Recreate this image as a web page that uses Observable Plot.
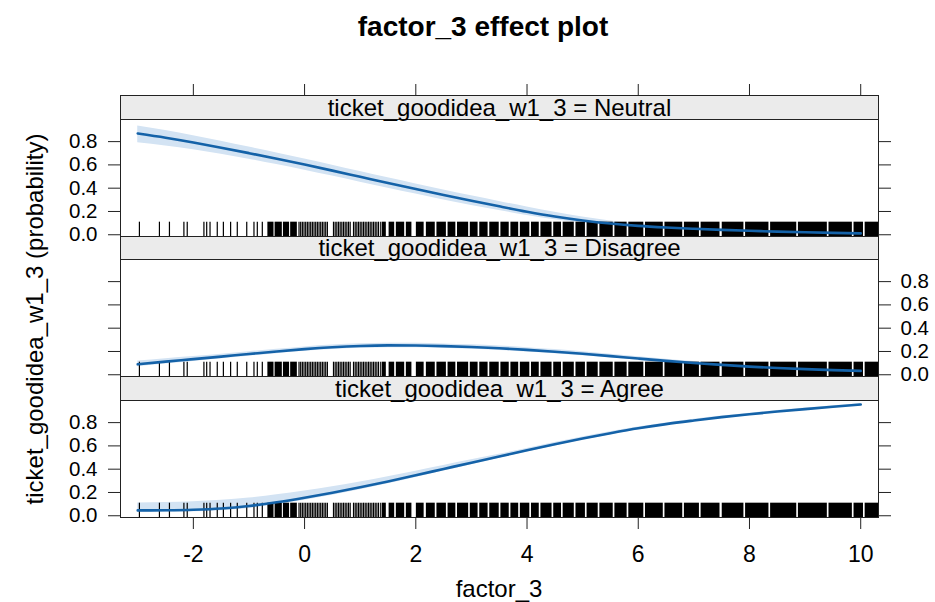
<!DOCTYPE html>
<html>
<head>
<meta charset="utf-8">
<script src="https://cdn.jsdelivr.net/npm/d3@7"></script>
<script src="https://cdn.jsdelivr.net/npm/@observablehq/plot@0.6"></script>
<style>
  body { margin: 0; background: #fff; }
  #chart { position: relative; width: 935px; height: 602px; overflow: hidden;
           font-family: "Liberation Sans", Arial, Helvetica, sans-serif; color: #000; }
  #chart svg { position: absolute; left: 0; top: 0; }
  .strip { position: absolute; box-sizing: border-box; border: 1px solid #222; background: #ebebeb;
           text-align: center; font-size: 24px; white-space: nowrap; }
  .title { position: absolute; top: 11px; left: 483px; transform: translateX(-50%);
           font-size: 28px; font-weight: bold; line-height: 32px; white-space: nowrap; }
  .xlab { position: absolute; top: 577px; left: 499px; transform: translateX(-50%);
          font-size: 24px; line-height: 24px; white-space: nowrap; }
  .ylab { position: absolute; width: 500px; height: 30px; line-height: 30px; left: -215px; top: 304px;
          transform: rotate(-90deg); text-align: center; font-size: 24px; white-space: nowrap; }
</style>
</head>
<body>
<div id="chart"></div>
<script>
// ---------- data ----------
const title = "factor_3 effect plot";
const xLabel = "factor_3";
const yLabel = "ticket_goodidea_w1_3 (probability)";
const responseName = "ticket_goodidea_w1_3";
const levels = ["Neutral", "Disagree", "Agree"];

const xTicks = [-2, 0, 2, 4, 6, 8, 10];
const yTicks = [0, 0.2, 0.4, 0.6, 0.8];

const xValues = [-3, -2.5, -2, -1.5, -1, -0.5, 0, 0.5, 1, 1.5, 2, 2.5, 3, 3.5, 4, 4.5, 5, 5.5, 6, 6.5, 7, 7.5, 8, 8.5, 9, 9.5, 10];

const neutralFit   = [0.870, 0.834, 0.793, 0.748, 0.701, 0.653, 0.603, 0.551, 0.498, 0.445, 0.393, 0.342, 0.292, 0.244, 0.198, 0.157, 0.123, 0.096, 0.076, 0.062, 0.051, 0.042, 0.034, 0.027, 0.021, 0.016, 0.012];
const neutralLower = [0.790, 0.762, 0.730, 0.691, 0.649, 0.603, 0.555, 0.504, 0.452, 0.400, 0.349, 0.299, 0.251, 0.208, 0.166, 0.129, 0.100, 0.079, 0.062, 0.050, 0.041, 0.034, 0.027, 0.021, 0.016, 0.012, 0.008];
const neutralUpper = [0.935, 0.896, 0.851, 0.803, 0.753, 0.703, 0.651, 0.598, 0.544, 0.490, 0.437, 0.385, 0.335, 0.286, 0.239, 0.194, 0.153, 0.119, 0.093, 0.076, 0.062, 0.051, 0.042, 0.034, 0.027, 0.021, 0.017];

const disagreeFit   = [0.090, 0.113, 0.134, 0.156, 0.178, 0.200, 0.220, 0.236, 0.247, 0.252, 0.251, 0.246, 0.238, 0.228, 0.214, 0.198, 0.180, 0.160, 0.139, 0.119, 0.101, 0.085, 0.070, 0.058, 0.048, 0.040, 0.033];
const disagreeLower = [0.068, 0.092, 0.114, 0.137, 0.159, 0.181, 0.201, 0.217, 0.228, 0.233, 0.232, 0.227, 0.219, 0.209, 0.196, 0.181, 0.164, 0.145, 0.125, 0.106, 0.089, 0.074, 0.060, 0.049, 0.040, 0.032, 0.026];
const disagreeUpper = [0.118, 0.138, 0.157, 0.177, 0.198, 0.219, 0.239, 0.255, 0.266, 0.271, 0.270, 0.265, 0.257, 0.247, 0.233, 0.216, 0.197, 0.176, 0.154, 0.133, 0.114, 0.097, 0.081, 0.068, 0.057, 0.048, 0.041];

const agreeFit   = [0.046, 0.047, 0.051, 0.062, 0.084, 0.116, 0.155, 0.198, 0.245, 0.295, 0.348, 0.402, 0.456, 0.509, 0.563, 0.615, 0.664, 0.709, 0.751, 0.787, 0.818, 0.847, 0.872, 0.895, 0.916, 0.936, 0.955];
const agreeLower = [0.030, 0.031, 0.034, 0.043, 0.063, 0.094, 0.133, 0.176, 0.224, 0.275, 0.329, 0.384, 0.439, 0.493, 0.547, 0.600, 0.650, 0.696, 0.739, 0.776, 0.808, 0.837, 0.862, 0.885, 0.906, 0.926, 0.944];
const agreeUpper = [0.110, 0.114, 0.121, 0.133, 0.152, 0.180, 0.213, 0.250, 0.291, 0.336, 0.383, 0.432, 0.480, 0.528, 0.578, 0.629, 0.677, 0.721, 0.762, 0.797, 0.828, 0.856, 0.881, 0.904, 0.925, 0.945, 0.965];

// rug of observed factor_3 values: single ticks where sparse, solid blocks where dense
const rugTicks = [-2.97, -2.61, -2.43, -2.17, -2.11, -1.81, -1.76, -1.70, -1.57, -1.46, -1.33, -1.21, -1.04, -0.91, -0.85, -0.76,
  -0.10, -0.07, -0.04, -0.01, 0.02, 0.05, 0.08, 0.11, 0.14, 0.17, 0.20, 0.23, 0.26, 0.29, 0.32, 0.35, 0.38, 0.41,
  0.52, 0.55, 0.58, 0.61, 0.64, 0.67, 0.70, 0.73, 0.76, 0.79, 0.82,
  0.88, 0.91, 0.94, 0.97, 1.00, 1.03, 1.06, 1.09, 1.12, 1.15, 1.18, 1.21, 1.24, 1.27, 1.30, 1.33, 1.37];
const rugBlocks = [[-0.66, -0.55], [-0.53, -0.40], [-0.38, -0.27], [-0.25, -0.13],
  [1.40, 1.47], [1.52, 1.62], [1.65, 1.80], [1.83, 1.93], [2.01, 2.15], [2.19, 2.35], [2.38, 2.55], [2.58, 2.72],
  [2.75, 2.95], [2.98, 3.12], [3.15, 3.30], [3.33, 3.50], [3.53, 3.68], [3.71, 3.85], [3.88, 4.05], [4.08, 4.22], [4.25, 4.45],
  [4.48, 4.62], [4.65, 4.85], [4.88, 5.05], [5.08, 5.28], [5.31, 5.55], [5.58, 5.80], [5.83, 6.10], [6.13, 6.45], [6.48, 6.80],
  [6.83, 7.10], [7.13, 7.47], [7.51, 7.90], [7.93, 8.35], [8.38, 8.85], [8.88, 9.40], [9.43, 9.85], [9.88, 10.05], [10.08, 10.32]];

const fits = [neutralFit, disagreeFit, agreeFit];
const lowers = [neutralLower, disagreeLower, agreeLower];
const uppers = [neutralUpper, disagreeUpper, agreeUpper];

// ---------- layout / style ----------
const W = 935, H = 602;
const xDomain = [-3.31, 10.32];
const yDomain = [-0.015, 0.99];
const rugTop = 0.108;
const stripTop = [95, 236, 376];
const panelTop = [119, 259, 400];
const panelBottom = [236, 376, 517];
const lineColor = "#1462a8";
const bandColor = "#d3e3f3";
const fmt = d3.format(".1f");
const blank = () => "";

const chart = document.getElementById("chart");

function panel(i) {
  const rows = xValues.map((x, j) => ({x, fit: fits[i][j], lo: lowers[i][j], hi: uppers[i][j]}));
  const labelLeft = i !== 1;
  const marks = [
    Plot.areaY(rows, {x: "x", y1: "lo", y2: "hi", fill: bandColor, curve: "monotone-x"}),
    Plot.ruleX(rugTicks, {x: d => d, y1: yDomain[0], y2: rugTop, stroke: "#000", strokeWidth: 1.2}),
    Plot.rect(rugBlocks, {x1: d => d[0], x2: d => d[1], y1: yDomain[0], y2: rugTop, fill: "#000"}),
    Plot.line(rows, {x: "x", y: "fit", stroke: lineColor, strokeWidth: 2.6, curve: "monotone-x"}),
    Plot.frame({stroke: "#222"}),
    Plot.axisY({anchor: "left", ticks: yTicks, tickSize: 12, tickPadding: 11, fontSize: 20.5,
                tickFormat: labelLeft ? fmt : blank, label: null, stroke: "#222"}),
    Plot.axisY({anchor: "right", ticks: yTicks, tickSize: 12, tickPadding: 10, fontSize: 20.5,
                tickFormat: labelLeft ? blank : fmt, label: null, stroke: "#222"})
  ];
  if (i === 0) marks.push(Plot.axisX({anchor: "top", ticks: xTicks, tickSize: 12, tickFormat: blank, label: null, stroke: "#222"}));
  if (i === 2) marks.push(Plot.axisX({anchor: "bottom", ticks: xTicks, tickSize: 12, tickPadding: 16,
                                      tickFormat: d => String(d), label: null, stroke: "#222"}));
  return Plot.plot({
    width: W, height: H,
    marginTop: stripTop[i], marginBottom: H - panelBottom[i], marginLeft: 120, marginRight: 57,
    x: {domain: xDomain, axis: null},
    y: {domain: yDomain, range: [panelBottom[i], panelTop[i]], axis: null},
    style: {background: "transparent", fontFamily: "'Liberation Sans', Arial, Helvetica, sans-serif",
            fontSize: "23px", color: "#000", overflow: "visible"},
    marks
  });
}

levels.forEach((lev, i) => {
  chart.appendChild(panel(i));
});
levels.forEach((lev, i) => {
  const s = document.createElement("div");
  s.className = "strip";
  s.style.left = "120px";
  s.style.top = stripTop[i] + "px";
  s.style.width = "759px";
  s.style.height = (panelTop[i] - stripTop[i] + 1) + "px";
  s.style.lineHeight = (panelTop[i] - stripTop[i] - 1) + "px";
  s.textContent = responseName + " = " + lev;
  chart.appendChild(s);
});

const t = document.createElement("div"); t.className = "title"; t.textContent = title; chart.appendChild(t);
const xl = document.createElement("div"); xl.className = "xlab"; xl.textContent = xLabel; chart.appendChild(xl);
const yl = document.createElement("div"); yl.className = "ylab"; yl.textContent = yLabel; chart.appendChild(yl);
</script>
</body>
</html>
